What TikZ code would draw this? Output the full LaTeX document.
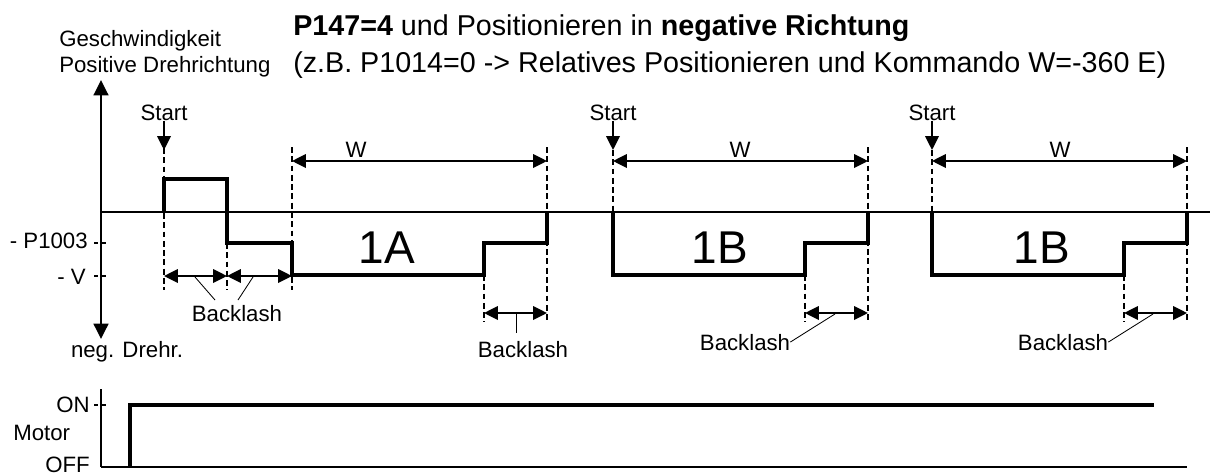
\documentclass[tikz,border=0pt]{standalone}
\usepackage{fontspec}
\setmainfont{Liberation Sans}
\usetikzlibrary{arrows.meta}

\begin{document}
\begin{tikzpicture}[x=0.025cm,y=-0.025cm,
    lbl/.style={inner sep=0pt,font=\fontsize{15.8}{19}\selectfont},
    ttl/.style={inner sep=0pt,anchor=base west,font=\fontsize{20.4}{24}\selectfont},
    big/.style={inner sep=0pt,anchor=base,font=\fontsize{32.7}{38}\selectfont},
    sig/.style={line width=2.9pt,line join=miter},
    guide/.style={line width=1.3pt,dash pattern=on 4.2pt off 2.4pt},
    dim/.style={line width=1.3pt,{Triangle[length=9.8pt,width=9.6pt]}-{Triangle[length=9.8pt,width=9.6pt]}},
    leader/.style={line width=0.6pt},
    tick/.style={line width=1.2pt,dash pattern=on 3pt off 2.6pt}]
  \useasboundingbox (0,0) rectangle (1210,475);
  \node[ttl] (title1) at (293,35) {\textbf{P147=4} und Positionieren in \textbf{negative Richtung}};
  \node[ttl] (title2) at (293,72) {(z.B. P1014=0 -> Relatives Positionieren und Kommando W=-360 E)};
  \node[lbl,anchor=base west] (vname) at (59,46) {Geschwindigkeit};
  \node[lbl,anchor=base west] (vdir) at (59,72.7) {Positive Drehrichtung};
  \node[lbl,anchor=base] (vneg) at (127,357) {neg. Drehr.};
  \coordinate (vtop) at (101,80);
  \coordinate (vbot) at (101,339);
  \draw[line width=1.5pt,{Triangle[length=11pt,width=10.6pt]}-{Triangle[length=11pt,width=10.6pt]}]
    (vtop) -- (vbot);
  \draw[line width=1pt] (101,212) -- (1210,212);
  \node[lbl,anchor=base east] (lvlp) at (88,248) {- P1003};
  \node[lbl,anchor=base east] (lvlv) at (86,284) {- V};
  \foreach \y in {243,276,405}{
    \draw[tick] (94,\y) -- (108,\y);}
  \foreach \i/\x in {1/164,2/613,3/932}{
    \node[lbl,anchor=base] (start\i) at (\x,120) {Start};
    \coordinate (sa\i) at (\x,150);
    \draw[line width=1.3pt,-{Triangle[length=9.8pt,width=9.6pt]}] (start\i.south) -- (sa\i);}
  \draw[guide] (164,148) -- (164,290);
  \draw[guide] (227,243) -- (227,290);
  \draw[guide] (292,147) -- (292,290);
  \foreach \i/\s/\w/\t/\tx in {1/292/356/1A/387,2/613/740/1B/720,3/932/1060/1B/1042}{
    \ifnum\i>1 \draw[guide] (\s,150) -- (\s,212); \fi
    \draw[guide] (\s+255,147) -- (\s+255,322);
    \draw[guide] (\s+192,275) -- (\s+192,322);
    \draw[dim] (\s,161) -- (\s+255,161);
    \node[lbl,anchor=base] (w\i) at (\w,157) {W};
    \draw[dim] (\s+192,313) -- (\s+255,313);
    \node[big] (seg\i) at (\tx,263) {\t};}
  \draw[sig] (164,212) -- (164,179) -- (227,179) -- (227,243) -- (292,243) -- (292,275)
    -- (484,275) |- (547,243) -- (547,212);
  \foreach \s in {613,932}{
    \draw[sig] (\s,212) |- (\s+192,275) |- (\s+255,243) -- (\s+255,212);}
  \draw[dim] (164,276) -- (227,276);
  \draw[dim] (227,276) -- (292,276);
  \node[lbl,anchor=base] (bl0) at (237,321) {Backlash};
  \coordinate (lk0a) at (195,277);
  \coordinate (lk0b) at (253,277);
  \draw[leader] (lk0a) -- ++(20,23);
  \draw[leader] (lk0b) -- ++(-15,23);
  \node[lbl,anchor=base] (bl1) at (523,357) {Backlash};
  \coordinate (lk1) at (516,313);
  \draw[leader] (lk1) -- ++(0,20);
  \node[lbl,anchor=base] (bl2) at (745,350) {Backlash};
  \coordinate (lk2) at (835,314);
  \draw[leader] (lk2) -- (bl2.east);
  \node[lbl,anchor=base] (bl3) at (1063,350) {Backlash};
  \coordinate (lk3) at (1153,314);
  \draw[leader] (lk3) -- (bl3.east);
  \node[lbl,anchor=base east] (on) at (90,412) {ON};
  \node[lbl,anchor=base west] (motor) at (13,440) {Motor};
  \node[lbl,anchor=base east] (off) at (90,472) {OFF};
  \draw[line width=1.4pt] (101,389) -- (101,467);
  \draw[line width=2pt] (101,467) -- (1187,467);
  \draw[sig] (130,467) |- (1154,405);
\end{tikzpicture}
\end{document}
